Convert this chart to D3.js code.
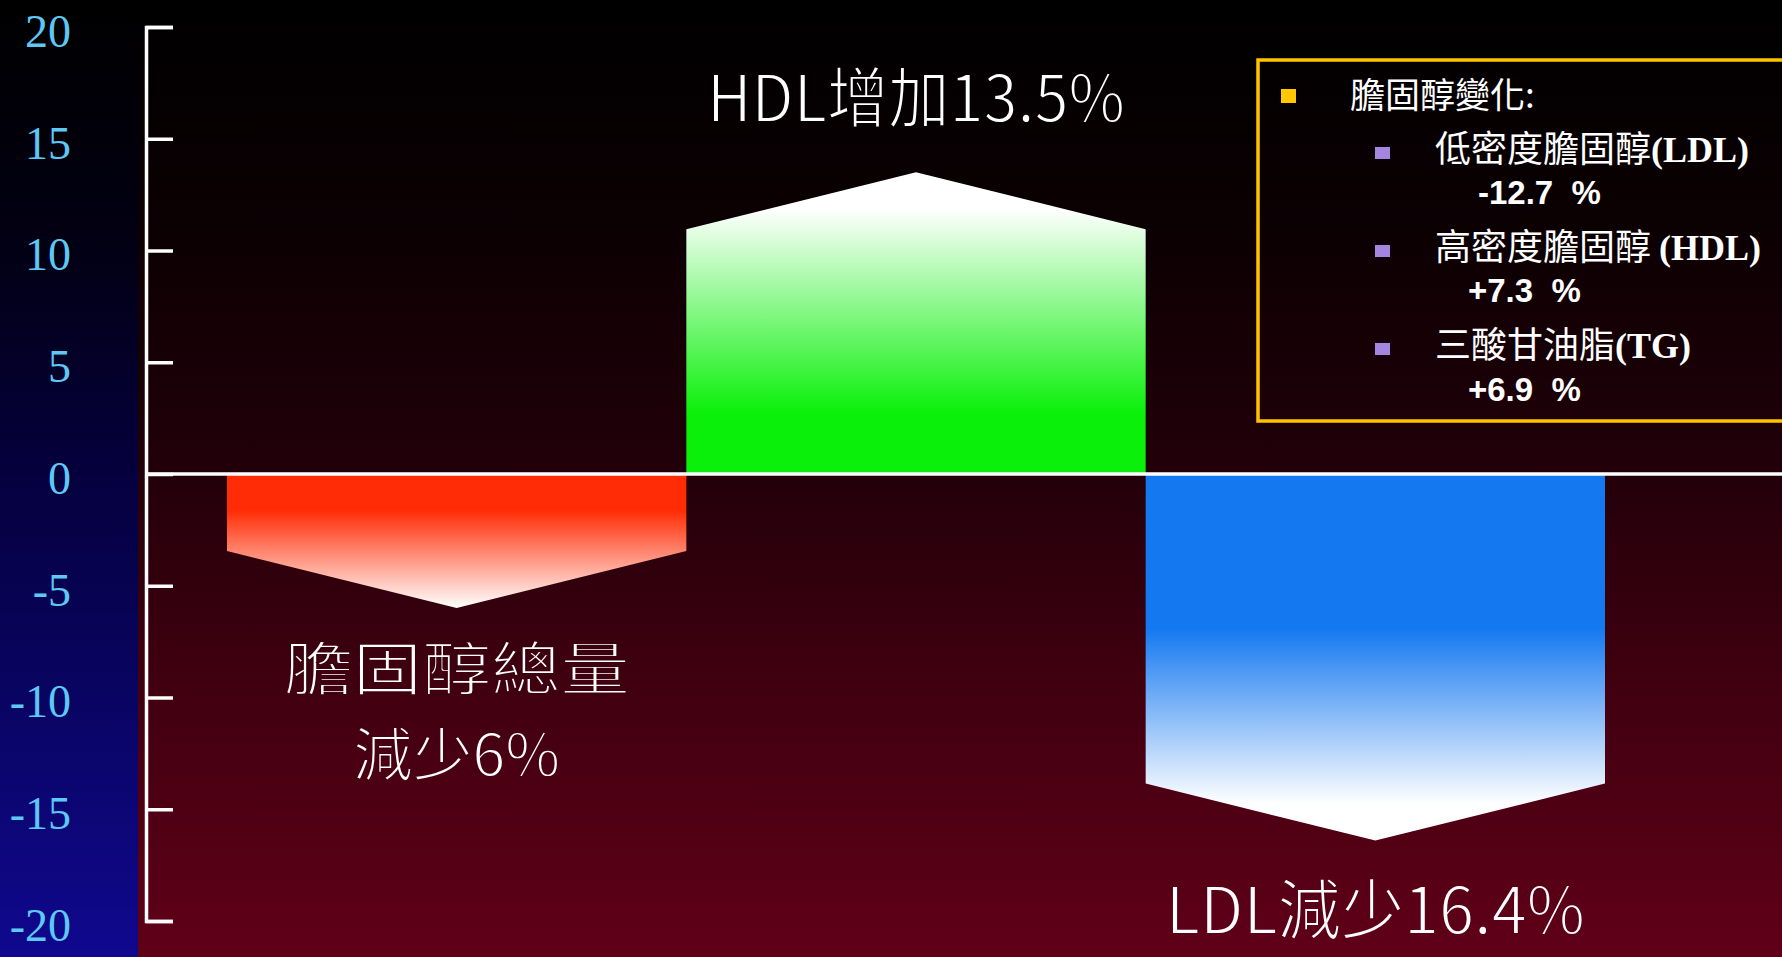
<!DOCTYPE html>
<html>
<head>
<meta charset="utf-8">
<script src="https://cdn.jsdelivr.net/npm/d3@7"></script>
<style>
  html, body { margin: 0; padding: 0; background: #000; }
  svg { display: block; }
  text { white-space: pre; }
</style>
</head>
<body>
<svg id="chart" width="1782" height="957"></svg>
<script>
// ---- data ----
const categories = ["膽固醇總量", "HDL", "LDL"];
const values = [-6, 13.5, -16.4];
const barLabels = [["膽固醇總量", "減少6%"], ["HDL增加13.5%"], ["LDL減少16.4%"]];
const tickValues = [20, 15, 10, 5, 0, -5, -10, -15, -20];

const legendTitle = "膽固醇變化:";
const legendNames = ["低密度膽固醇", "高密度膽固醇 ", "三酸甘油脂"];
const legendAbbr = ["(LDL)", "(HDL)", "(TG)"];
const legendChanges = ["-12.7  %", "+7.3  %", "+6.9  %"];

// ---- layout ----
const W = 1782, H = 957;
const axisX = 146;
const notch = 2.55; // depth of the chevron point, in axis units

const svg = d3.select("#chart");
const defs = svg.append("defs");

function vGrad(id, stops, user) {
  const g = defs.append("linearGradient").attr("id", id)
    .attr("x1", 0).attr("y1", 0).attr("x2", 0).attr("y2", user ? H : 1);
  if (user) g.attr("gradientUnits", "userSpaceOnUse");
  stops.forEach(([o, c]) => g.append("stop").attr("offset", o).attr("stop-color", c));
}
const bgStops = [[0, "#000000"], [0.25, "#0c0003"], [0.5, "#23000a"], [0.7, "#3e000f"], [1, "#600018"]];
vGrad("bgRight", bgStops, true);
vGrad("bgLeft", [[0, "#000000"], [0.25, "#020012"], [0.5, "#05003e"], [0.7, "#08045e"], [1, "#10088e"]]);
vGrad("g0", [[0, "#ff2c05"], [0.27, "#ff2c05"], [1, "#ffffff"]]);
vGrad("g1", [[0, "#ffffff"], [0.12, "#ffffff"], [0.8, "#0af00a"], [1, "#0af00a"]]);
vGrad("g2", [[0, "#1478f0"], [0.42, "#1478f0"], [0.9, "#ffffff"], [1, "#ffffff"]]);

// backgrounds
svg.append("rect").attr("width", W).attr("height", H).attr("fill", "url(#bgRight)");
svg.append("rect").attr("width", 138).attr("height", H).attr("fill", "url(#bgLeft)");

// scales
const y = d3.scaleLinear().domain([-20, 20]).range([921, 27]);
const x = d3.scaleBand().domain(categories).range([227, 1605]).padding(0);

// chevron-shaped bars
const bars = svg.append("g");
categories.forEach((c, i) => {
  const v = values[i];
  const x0 = x(c), x1 = x(c) + x.bandwidth(), xc = x0 + x.bandwidth() / 2;
  const s = v > 0 ? v - notch : v + notch;
  const pts = [[x0, y(0)], [x0, y(s)], [xc, y(v)], [x1, y(s)], [x1, y(0)]];
  bars.append("path")
    .attr("d", d3.line()(pts) + "Z")
    .attr("fill", `url(#g${i})`);
});

// tick marks (pointing right) and axis line
const tickAxis = svg.append("g").attr("transform", `translate(${axisX},0)`)
  .call(d3.axisRight(y).tickValues(tickValues).tickSize(27).tickSizeOuter(27).tickFormat(""));
tickAxis.selectAll("path, line").attr("stroke", "#ffffff").attr("stroke-width", 3.5);

// tick labels on the left panel
const labelAxis = svg.append("g").attr("transform", `translate(${axisX},0)`)
  .call(d3.axisLeft(y).tickValues(tickValues).tickSize(0).tickPadding(75).tickFormat(d => String(d)));
labelAxis.select(".domain").remove();
labelAxis.selectAll("text")
  .attr("fill", "#5ec8f4")
  .attr("font-family", "'Liberation Serif', 'Times New Roman', serif")
  .attr("font-size", 46)
  .attr("dy", "0.42em");

// zero line
svg.append("line")
  .attr("x1", axisX).attr("x2", W)
  .attr("y1", y(0)).attr("y2", y(0))
  .attr("stroke", "#ffffff").attr("stroke-width", 3.5);

// bar annotations: thin white lettering (edges trimmed with a background-coloured stroke)
const labelFont = "'Noto Sans CJK TC', 'Noto Sans CJK JP', sans-serif";
const labelFirst = [82, -50, 93];   // first baseline offset from the bar tip
const lineGap = 86;
const labelSizes = [58, 66, 66];
const labelWidths = [[346, 207], [418], [419]];
categories.forEach((c, i) => {
  const xc = x(c) + x.bandwidth() / 2;
  const t = svg.append("text")
    .attr("text-anchor", "middle")
    .attr("font-family", labelFont)
    .attr("font-size", labelSizes[i])
    .attr("fill", "#ffffff")
    .attr("stroke", "url(#bgRight)")
    .attr("stroke-width", 1.8);
  barLabels[i].forEach((line, j) => {
    t.append("tspan")
      .attr("x", xc)
      .attr("y", y(values[i]) + labelFirst[i] + j * lineGap)
      .attr("textLength", labelWidths[i][j])
      .attr("lengthAdjust", "spacingAndGlyphs")
      .text(line);
  });
});

// legend box
const lg = svg.append("g");
lg.append("rect")
  .attr("x", 1258).attr("y", 60).attr("width", 540).attr("height", 361)
  .attr("fill", "none").attr("stroke", "#ffc400").attr("stroke-width", 3.5);
lg.append("rect").attr("x", 1281).attr("y", 89).attr("width", 15).attr("height", 14).attr("fill", "#ffc800");
lg.append("text")
  .attr("x", 1350).attr("y", 108)
  .attr("font-family", labelFont).attr("font-size", 35).attr("fill", "#ffffff")
  .text(legendTitle);

const rowY = [162, 260, 358];
const numY = [204, 302, 401];
const numX = [1478, 1468, 1468];
legendNames.forEach((n, i) => {
  lg.append("rect").attr("x", 1375).attr("y", rowY[i] - 15).attr("width", 15).attr("height", 12)
    .attr("fill", "#a486e0");
  const t = lg.append("text").attr("x", 1435).attr("y", rowY[i]).attr("fill", "#ffffff");
  t.append("tspan").attr("font-family", labelFont).attr("font-size", 36).text(n);
  t.append("tspan").attr("font-family", "'Liberation Serif', 'Times New Roman', serif")
    .attr("font-weight", "bold").attr("font-size", 36).text(legendAbbr[i]);
  lg.append("text")
    .attr("x", numX[i]).attr("y", numY[i])
    .attr("font-family", "'Liberation Sans', Arial, sans-serif")
    .attr("font-weight", "bold").attr("font-size", 33).attr("fill", "#ffffff")
    .text(legendChanges[i]);
});
</script>
</body>
</html>
